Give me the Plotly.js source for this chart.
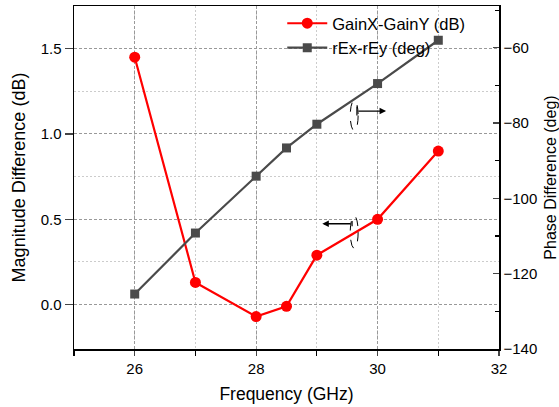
<!DOCTYPE html>
<html>
<head>
<meta charset="utf-8">
<script src="https://cdn.plot.ly/plotly-3.0.1.min.js"></script>
<style>html,body{margin:0;padding:0;background:#fff}#chart{width:559px;height:407px}</style>
</head>
<body>
<div id="chart"></div>
<script>
const freq = [26, 27, 28, 28.5, 29, 30, 31];
const gainDiff = [1.45, 0.13, -0.07, -0.01, 0.29, 0.50, 0.90];
const phaseDiff = [-125.4, -109.2, -94.1, -86.6, -80.3, -69.5, -58.0];
const gainName = 'GainX-GainY (dB)';
const phaseName = 'rEx-rEy (deg)';
const xTickVals = [26, 28, 30, 32];
const yMinorVals = [0.25, 0.75, 1.25];

const FONT = 'Arial, "Liberation Sans", sans-serif';

const traces = [
  {x: freq, y: gainDiff, name: gainName, type: 'scatter', mode: 'lines+markers',
   line: {color: '#ff0000', width: 2.2}, marker: {symbol: 'circle', size: 11, color: '#ff0000'}, yaxis: 'y'},
  {x: freq, y: phaseDiff, name: phaseName, type: 'scatter', mode: 'lines+markers',
   line: {color: '#4a4a4a', width: 2.2}, marker: {symbol: 'square', size: 9, color: '#4a4a4a'}, yaxis: 'y2'}
];

const layout = {
  width: 559, height: 407,
  margin: {l: 74, r: 60, t: 6, b: 58},
  paper_bgcolor: '#fff', plot_bgcolor: '#fff',
  font: {family: FONT, size: 15, color: '#000'},
  showlegend: true,
  legend: {x: 0.49, y: 1.0, xanchor: 'left', yanchor: 'top', bgcolor: 'rgba(0,0,0,0)',
           font: {family: FONT, size: 16.5, color: '#000'}, tracegroupgap: 0, itemwidth: 40},
  xaxis: {
    range: [25, 32], tickmode: 'array', tickvals: xTickVals, ticks: 'outside', ticklen: 5, tickwidth: 1.2,
    showline: true, linecolor: '#000', linewidth: 1.5, mirror: true,
    showgrid: true, gridcolor: '#999999', griddash: '3px,2px', gridwidth: 1,
    zeroline: false,
    minor: {dtick: 1, tick0: 25, ticks: 'outside', ticklen: 5, tickcolor: '#000', showgrid: true, gridcolor: '#cccccc', griddash: '2px,2px'},
    title: {text: 'Frequency (GHz)', font: {family: FONT, size: 17.5}, standoff: 12},
    tickfont: {family: FONT, size: 15}
  },
  yaxis: {
    range: [-0.26, 1.75], tick0: 0, dtick: 0.5, ticks: 'outside', ticklen: 8, tickwidth: 1.2,
    tickformat: '.1f',
    showline: true, linecolor: '#000', linewidth: 1.5,
    showgrid: true, gridcolor: '#999999', griddash: '3px,2px', gridwidth: 1,
    zeroline: false,
    minor: {tickmode: 'array', tickvals: yMinorVals, showgrid: true, gridcolor: '#cccccc', griddash: '2px,2px'},
    title: {text: 'Magnitude Difference (dB)', font: {family: FONT, size: 18}, standoff: 10},
    tickfont: {family: FONT, size: 15}
  },
  yaxis2: {
    overlaying: 'y', side: 'right', range: [-140, -48.9], tick0: -140, dtick: 20,
    ticks: 'inside', ticklen: 6, tickwidth: 1.2,
    showline: true, linecolor: '#000', linewidth: 1.5, showgrid: false, zeroline: false,
    minor: {dtick: 10, ticks: 'inside', ticklen: 4, tickcolor: '#000'},
    title: {text: 'Phase Difference (deg)', font: {family: FONT, size: 16}, standoff: 10},
    tickfont: {family: FONT, size: 15}
  },
  shapes: [
    {type: 'circle', xref: 'x', yref: 'y2', x0: 29.55, x1: 29.68, y0: -82, y1: -74,
     line: {color: '#000', width: 1, dash: 'dash'}},
    {type: 'circle', xref: 'x', yref: 'y', x0: 29.55, x1: 29.68, y0: 0.33, y1: 0.52,
     line: {color: '#000', width: 1, dash: 'dash'}},
    {type: 'line', xref: 'x', yref: 'y2', x0: 29.66, x1: 29.66, y0: -78, y1: -75.6,
     line: {color: '#000', width: 1.2}},
    {type: 'line', xref: 'x', yref: 'y', x0: 29.58, x1: 29.58, y0: 0.46, y1: 0.49,
     line: {color: '#000', width: 1.2}}
  ],
  annotations: [
    {xref: 'x', yref: 'y2', axref: 'x', ayref: 'y2', x: 30.14, y: -76.8, ax: 29.66, ay: -76.8,
     text: '', showarrow: true, arrowhead: 2, arrowsize: 1, arrowwidth: 1.3, arrowcolor: '#000'},
    {xref: 'x', yref: 'y', axref: 'x', ayref: 'y', x: 29.09, y: 0.474, ax: 29.58, ay: 0.474,
     text: '', showarrow: true, arrowhead: 2, arrowsize: 1, arrowwidth: 1.3, arrowcolor: '#000'}
  ]
};

Plotly.newPlot('chart', traces, layout, {displayModeBar: false, staticPlot: true});
</script>
</body>
</html>
